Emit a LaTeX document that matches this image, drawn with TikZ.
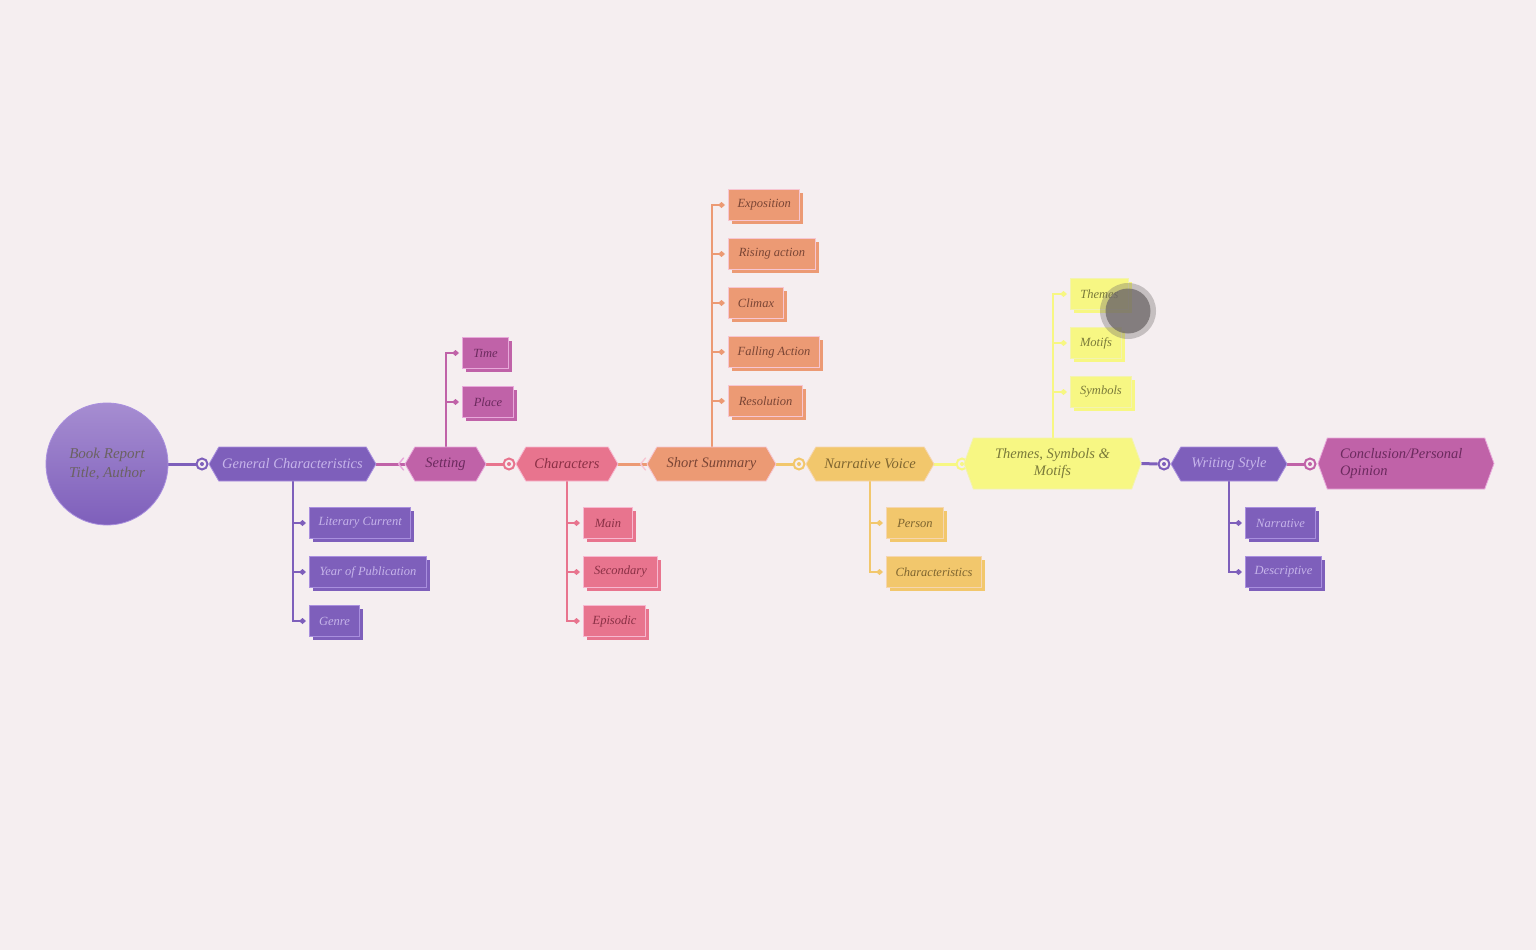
\documentclass[tikz,border=0pt]{standalone}
\usepackage{fontspec}
\setmainfont{Liberation Serif}
\usetikzlibrary{shapes.symbols,arrows.meta,shadows}
\definecolor{bgc}{HTML}{F5EEF0}
\definecolor{purp}{HTML}{7E5FBB}
\definecolor{purpT}{HTML}{C6B4EA}
\definecolor{purpB}{HTML}{A98FDE}
\definecolor{rootTop}{HTML}{A68DD1}
\definecolor{rootT}{HTML}{6B6262}
\definecolor{mag}{HTML}{C062A8}
\definecolor{magT}{HTML}{6B2A5E}
\definecolor{magB}{HTML}{E8A8DA}
\definecolor{pink}{HTML}{E8748E}
\definecolor{pinkT}{HTML}{8A3045}
\definecolor{pinkB}{HTML}{F7B8D0}
\definecolor{salm}{HTML}{EC9A74}
\definecolor{salmT}{HTML}{7A4535}
\definecolor{salmB}{HTML}{F7C6D2}
\definecolor{gold}{HTML}{F2C76C}
\definecolor{goldT}{HTML}{7E6530}
\definecolor{goldB}{HTML}{F5D6B0}
\definecolor{yel}{HTML}{F7F783}
\definecolor{yelT}{HTML}{7A7A3A}
\definecolor{yelB}{HTML}{F3F3B0}
\definecolor{cursorc}{HTML}{6E6868}
\pgfdeclarelayer{bg}
\pgfsetlayers{bg,main}
\begin{document}
\begin{tikzpicture}[x=1pt,y=-1pt,
  hexa/.style={signal, signal to=east and west, signal pointer angle=120,
    minimum height=34, inner sep=0, line width=0.8,
    font=\itshape\fontsize{14.5}{17}\selectfont},
  hexbig/.style={hexa, minimum height=51, signal pointer angle=140},
  fam/.style n args={3}{fill=#1, draw=#2, text=#3},
  leafc/.style n args={3}{rectangle, anchor=west, minimum height=31, inner xsep=9, inner ysep=0,
    line width=1, font=\itshape\fontsize{12.5}{14}\selectfont,
    fill=#1, draw=#2, text=#3,
    general shadow={fill=#1, shadow xshift=3pt, shadow yshift=-3pt}},
  mainline/.style={line width=3},
  branchline/.style={line width=2, -{Diamond[length=7pt,width=6pt]}, shorten >=3pt},
  ringst/.style={circle, minimum size=11, inner sep=0, line width=2, draw=#1, fill=bgc,
    path picture={\fill[#1] (path picture bounding box.center) circle (2);}},
  chev/.style={line width=1.4, line cap=round, line join=round}
]
\begin{pgfonlayer}{bg}
\fill[bgc] (0,0) rectangle (1536,950);
\end{pgfonlayer}
\useasboundingbox (0,0) rectangle (1536,950);

% root
\node[circle, minimum size=122, top color=rootTop, bottom color=purp, draw=purpB, line width=0.8,
  text=rootT, align=center, font=\itshape\fontsize{15}{19}\selectfont] (root) at (107,464) {Book Report\\Title, Author};

% rings
\node[ringst=purp] (r1) at (202,464) {};
\node[ringst=pink] (r2) at (509,464) {};
\node[ringst=gold] (r3) at (799,464) {};
\node[ringst=yel]  (r4) at (962,464) {};
\node[ringst=purp] (r5) at (1164,464) {};
\node[ringst=mag]  (r6) at (1310,464) {};

% main nodes
\node[hexa, fam={purp}{purpB}{purpT}, minimum width=167] (gc) at (292.5,464) {General Characteristics};
\node[hexa, fam={mag}{magB}{magT}, minimum width=81] (set) at (445.5,464) {Setting};
\node[hexa, fam={pink}{pinkB}{pinkT}, minimum width=102] (chr) at (567,464) {Characters};
\node[hexa, fam={salm}{salmB}{salmT}, minimum width=129] (ss) at (711.5,464) {Short Summary};
\node[hexa, fam={gold}{goldB}{goldT}, minimum width=128] (nv) at (870,464) {Narrative Voice};
\node[hexbig, fam={yel}{yelB}{yelT}, minimum width=177, align=center] (th) at (1052.5,463.5) {Themes, Symbols \&\\Motifs};
\node[hexa, fam={purp}{purpB}{purpT}, minimum width=116] (ws) at (1229,464) {Writing Style};
\node[hexbig, fam={mag}{magB}{magT}, minimum width=176, text width=132, align=left] (co) at (1406,463.5) {Conclusion/Personal\\Opinion};

% leaves
\node[leafc={purp}{purpB}{purpT}, minimum width=100] (lc) at (309,523) {Literary Current};
\node[leafc={purp}{purpB}{purpT}, minimum width=117] (yp) at (309,572) {Year of Publication};
\node[leafc={purp}{purpB}{purpT}, minimum width=50] (ge) at (309,621) {Genre};

\node[leafc={mag}{magB}{magT}, minimum width=46] (ti) at (462,353) {Time};
\node[leafc={mag}{magB}{magT}, minimum width=51] (pl) at (462,402) {Place};

\node[leafc={pink}{pinkB}{pinkT}, minimum width=49] (ma) at (583,523) {Main};
\node[leafc={pink}{pinkB}{pinkT}, minimum width=74] (se) at (583,572) {Secondary};
\node[leafc={pink}{pinkB}{pinkT}, minimum width=62] (ep) at (583,621) {Episodic};

\node[leafc={salm}{salmB}{salmT}, minimum width=71] (ex) at (728,205) {Exposition};
\node[leafc={salm}{salmB}{salmT}, minimum width=87] (ra) at (728,254) {Rising action};
\node[leafc={salm}{salmB}{salmT}, minimum width=55] (cl) at (728,303) {Climax};
\node[leafc={salm}{salmB}{salmT}, minimum width=91] (fa) at (728,352) {Falling Action};
\node[leafc={salm}{salmB}{salmT}, minimum width=74] (re) at (728,401) {Resolution};

\node[leafc={gold}{goldB}{goldT}, minimum width=57] (pe) at (886,523) {Person};
\node[leafc={gold}{goldB}{goldT}, minimum width=93] (ch) at (886,572) {Characteristics};

\node[leafc={yel}{yelB}{yelT}, minimum width=58] (tm) at (1070,294) {Themes};
\node[leafc={yel}{yelB}{yelT}, minimum width=51] (mo) at (1070,343) {Motifs};
\node[leafc={yel}{yelB}{yelT}, minimum width=61] (sy) at (1070,392) {Symbols};

\node[leafc={purp}{purpB}{purpT}, minimum width=70] (na) at (1245,523) {Narrative};
\node[leafc={purp}{purpB}{purpT}, minimum width=76] (de) at (1245,572) {Descriptive};

\begin{pgfonlayer}{bg}
  % main connectors
  \draw[mainline, purp] (root.east) -- (r1.west);
  \draw[mainline, mag] (gc.east) -- (set.west);
  \draw[mainline, pink] (set.east) -- (r2.west);
  \draw[mainline, salm] (chr.east) -- (ss.west);
  \draw[mainline, gold] (ss.east) -- (r3.west);
  \draw[mainline, yel] (nv.east) -- (r4.west);
  \draw[mainline, purp] (th.east) -- (r5.west);
  \draw[mainline, mag] (ws.east) -- (r6.west);
  % branches
  \foreach \t in {lc,yp,ge} \draw[branchline, purp] (gc.south) |- (\t.west);
  \foreach \t in {ti,pl} \draw[branchline, mag] (set.north) |- (\t.west);
  \foreach \t in {ma,se,ep} \draw[branchline, pink] (chr.south) |- (\t.west);
  \foreach \t in {ex,ra,cl,fa,re} \draw[branchline, salm] (ss.north) |- (\t.west);
  \foreach \t in {pe,ch} \draw[branchline, gold] (nv.south) |- (\t.west);
  \foreach \t in {tm,mo,sy} \draw[branchline, yel] (th.north) |- (\t.west);
  \foreach \t in {na,de} \draw[branchline, purp] (ws.south) |- (\t.west);
\end{pgfonlayer}

% chevrons at targets
\draw[chev, magB] (set.west) ++(-1,-6) -- ++(-5,6) -- ++(5,6);
\draw[chev, salmB] (ss.west) ++(-1,-6) -- ++(-5,6) -- ++(5,6);

% cursor highlight
\fill[cursorc, opacity=0.35] (1128,311) circle (28);
\fill[cursorc, opacity=0.75] (1128,311) circle (22.5);
\end{tikzpicture}
\end{document}
